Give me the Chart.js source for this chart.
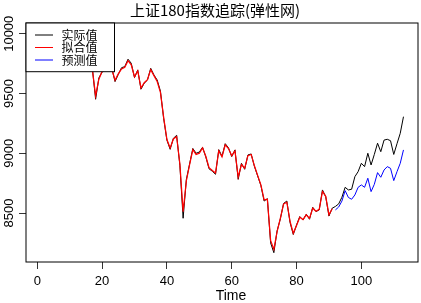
<!DOCTYPE html>
<html><head><meta charset="utf-8">
<script src="https://cdn.jsdelivr.net/npm/chart.js@4.4.0/dist/chart.umd.min.js"></script>
<style>html,body{margin:0;padding:0;background:#fff;}#wrap{width:421px;height:303px;position:relative;}</style>
</head><body><div id="wrap"><canvas id="c" width="421" height="303"></canvas></div>
<script>
const chartTitle = '上证180指数追踪(弹性网)';
const xAxisTitle = 'Time';
const seriesNames = ['实际值', '拟合值', '预测值'];
const seriesColors = ['#000000', '#FF0000', '#0000FF'];
const xTicks = [0, 20, 40, 60, 80, 100];
const yTicks = [8500, 9000, 9500, 10000];

const actualStart = 1;
const actual = [
  10010, 9950, 9975, 9900, 9870, 9920, 9850, 9800, 9830, 9760,
  9790, 9850, 9820, 9760, 9740, 9780, 9710, 9452, 9630, 9680,
  9700, 9720, 9710, 9600, 9660, 9716, 9725, 9787, 9753, 9633,
  9697, 9536, 9586, 9613, 9711, 9655, 9613, 9520, 9290, 9110,
  9033, 9125, 9150, 8900, 8456, 8780, 8910, 9040, 9000, 9010,
  9050, 8970, 8870, 8850, 8824, 9030, 8975, 9080, 9045, 8972,
  9028, 8782, 8916, 8866, 8986, 8994, 8890, 8810, 8730, 8600,
  8620, 8250, 8168, 8350, 8450, 8580, 8600, 8420, 8320, 8400,
  8470, 8442, 8490, 8448, 8548, 8512, 8526, 8693, 8637, 8475,
  8540, 8555, 8576, 8632, 8715, 8693, 8699, 8804, 8846, 8916,
  8888, 9000, 8902, 8990, 9084, 9013, 9110, 9117, 9105, 8990,
  9080, 9167, 9306
];
const fittedStart = 1;
const fitted = [
  10000, 9960, 9965, 9910, 9880, 9905, 9855, 9810, 9820, 9770,
  9790, 9840, 9815, 9765, 9745, 9770, 9700, 9480, 9620, 9685,
  9700, 9715, 9705, 9610, 9665, 9705, 9720, 9775, 9740, 9640,
  9690, 9545, 9590, 9615, 9700, 9650, 9600, 9510, 9300, 9115,
  9045, 9120, 9140, 8910, 8510, 8770, 8905, 9030, 8990, 9000,
  9045, 8975, 8880, 8855, 8835, 9020, 8970, 9070, 9040, 8980,
  9020, 8800, 8905, 8875, 8980, 8990, 8895, 8815, 8735, 8610,
  8615, 8270, 8195, 8345, 8455, 8575, 8590, 8430, 8330, 8395,
  8465, 8445, 8485, 8455, 8540, 8515, 8530, 8680, 8640, 8485,
  8535
];
const predictedStart = 92;
const predicted = [
  8526, 8550, 8600, 8687, 8630, 8615, 8651, 8715, 8735, 8715,
  8791, 8679, 8740, 8838, 8799, 8860, 8888, 8874, 8771, 8846,
  8916, 9028
];

const toPoints = (start, arr) => arr.map((v, i) => ({x: start + i, y: v}));
const FONT = '"Liberation Sans", Arial, "Noto Sans CJK SC", sans-serif';
const CJK = '"Noto Sans CJK SC", "Liberation Sans", sans-serif';

const rPlot = {
  id: 'rPlot',
  afterDatasetsDraw(chart) {
    const {ctx, chartArea: a} = chart;
    ctx.save();
    ctx.strokeStyle = '#000';
    ctx.lineWidth = 1;
    ctx.strokeRect(a.left, a.top, a.right - a.left, a.bottom - a.top);
    const lx = a.left, ly = a.top, lw = 88.5, lh = 48.7;
    ctx.fillStyle = '#fff';
    ctx.fillRect(lx, ly, lw, lh);
    ctx.strokeRect(lx, ly, lw, lh);
    ctx.font = '12px ' + CJK;
    ctx.textBaseline = 'middle';
    ctx.textAlign = 'left';
    seriesNames.forEach((name, i) => {
      const y = ly + 12 + i * 12.5;
      ctx.strokeStyle = seriesColors[i];
      ctx.beginPath();
      ctx.moveTo(lx + 9, y);
      ctx.lineTo(lx + 27, y);
      ctx.stroke();
      ctx.fillStyle = '#000';
      ctx.fillText(name, lx + 35.5, y);
    });
    ctx.restore();
  },
  afterDraw(chart) {
    const {ctx, scales} = chart;
    ctx.save();
    ctx.fillStyle = '#000';
    ctx.font = '13px ' + FONT;
    ctx.textAlign = 'center';
    ctx.textBaseline = 'middle';
    yTicks.forEach(v => {
      const y = scales.y.getPixelForValue(v);
      ctx.save();
      ctx.translate(9, y);
      ctx.rotate(-Math.PI / 2);
      ctx.fillText(String(v), 0, 0);
      ctx.restore();
    });
    ctx.font = '14px ' + FONT;
    ctx.fillText(xAxisTitle, 231, 296);
    ctx.restore();
  }
};

new Chart(document.getElementById('c'), {
  type: 'line',
  data: {
    datasets: [
      {label: seriesNames[0], data: toPoints(actualStart, actual), borderColor: seriesColors[0], borderWidth: 1, order: 3},
      {label: seriesNames[1], data: toPoints(fittedStart, fitted), borderColor: seriesColors[1], borderWidth: 1.25, order: 2},
      {label: seriesNames[2], data: toPoints(predictedStart, predicted), borderColor: seriesColors[2], borderWidth: 1, order: 1}
    ]
  },
  options: {
    responsive: false,
    devicePixelRatio: 1,
    animation: false,
    events: [],
    elements: {
      line: {borderWidth: 1, tension: 0, fill: false},
      point: {radius: 0}
    },
    layout: {padding: {left: 12, right: 3, top: 0, bottom: 0}},
    plugins: {
      legend: {display: false},
      tooltip: {enabled: false},
      title: {
        display: true,
        text: chartTitle,
        color: '#000',
        font: {family: CJK, size: 15, weight: 'normal', lineHeight: 1.2},
        padding: {top: 1, bottom: 4}
      }
    },
    scales: {
      x: {
        type: 'linear',
        min: -3.48,
        max: 117.48,
        afterBuildTicks: s => { s.ticks = xTicks.map(v => ({value: v})); },
        afterFit: s => { s.height = 41; },
        ticks: {autoSkip: false, maxRotation: 0, minRotation: 0, color: '#000', padding: 5,
                font: {family: FONT, size: 13}},
        grid: {display: true, drawOnChartArea: false, drawTicks: true, tickLength: 7, color: '#333'},
        border: {display: false}
      },
      y: {
        type: 'linear',
        min: 8090,
        max: 10090,
        afterBuildTicks: s => { s.ticks = yTicks.map(v => ({value: v})); },
        afterFit: s => { s.width = 14; },
        ticks: {display: false},
        grid: {display: true, drawOnChartArea: false, drawTicks: true, tickLength: 7, color: '#333'},
        border: {display: false}
      }
    }
  },
  plugins: [rPlot]
});
</script>
</body></html>
